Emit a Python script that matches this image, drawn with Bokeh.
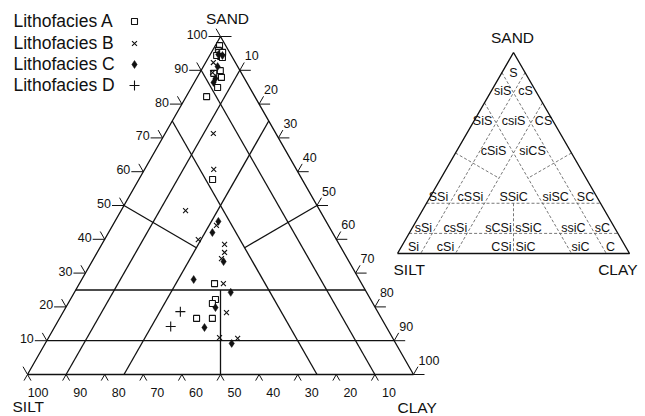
import numpy as np
from bokeh.plotting import figure
from bokeh.models import Range1d
from bokeh.embed import file_html
from bokeh.resources import INLINE
from bokeh.core.properties import value

FONT = "Liberation Sans"

# ---------------- data (percent: sand, silt, clay) ----------------
A_sand = [97.3, 95.9, 95.3, 95.3, 94.1, 94.4, 93.8, 89.9, 89.1, 87.9, 84.9, 82.2, 57.7, 26.9, 22.2, 21.0, 16.6, 16.6]
A_silt = [1.6, 2.6, 2.8, 1.8, 2.9, 3.8, 2.6, 5.1, 7.2, 5.8, 8.3, 12.5, 23.2, 38.1, 40.2, 41.6, 47.9, 43.8]
A_clay = [1.1, 1.5, 1.9, 2.9, 3.0, 1.8, 3.6, 5.0, 3.7, 6.3, 6.8, 5.3, 19.1, 35.0, 37.6, 37.4, 35.5, 39.6]

B_sand = [92.3, 89.3, 71.3, 60.7, 48.5, 44.1, 39.9, 38.5, 36.1, 34.3, 26.9, 18.3, 10.9, 10.7]
B_silt = [5.7, 7.4, 16.2, 21.4, 34.8, 29.0, 35.8, 29.7, 30.9, 32.6, 35.8, 39.3, 44.8, 40.2]
B_clay = [2.0, 3.3, 12.5, 17.9, 16.7, 26.9, 24.3, 31.8, 33.0, 33.1, 37.3, 42.4, 44.3, 49.1]

C_sand = [94.7, 94.4, 91.1, 87.6, 86.4, 45.3, 42.0, 33.4, 28.1, 24.3, 19.8, 13.9, 9.2]
C_silt = [3.2, 2.3, 5.2, 7.5, 8.6, 27.9, 31.1, 32.5, 42.9, 35.2, 41.4, 47.2, 42.5]
C_clay = [2.1, 3.3, 3.7, 4.9, 5.0, 26.8, 26.9, 34.1, 29.0, 40.5, 38.8, 38.9, 48.3]

D_sand = [18.6, 14.2]
D_silt = [51.1, 55.8]
D_clay = [30.3, 30.0]

series_names = ["Lithofacies A", "Lithofacies B", "Lithofacies C", "Lithofacies D"]

tick_values = [10, 20, 30, 40, 50, 60, 70, 80, 90, 100]

# class boundaries (sand, clay) endpoint pairs, percent
grid_lines = [
    ((10, 0), (10, 90)),      # sand = 10
    ((25, 0), (25, 75)),      # sand = 25
    ((90, 0), (0, 90)),       # silt = 10
    ((75, 0), (0, 75)),       # silt = 25
    ((90, 10), (0, 10)),      # clay = 10
    ((75, 25), (0, 25)),      # clay = 25
    ((50, 0), (37.5, 25)),    # sand = silt
    ((50, 50), (37.5, 37.5)), # sand = clay
    ((25, 37.5), (0, 50)),    # silt = clay
]

class_labels = ["S", "siS", "cS", "SiS", "csiS", "CS", "cSiS", "siCS",
                "SSi", "cSSi", "SSiC", "siSC", "SC",
                "sSi", "csSi", "sCSi", "sSiC", "ssiC", "sC",
                "Si", "cSi", "CSi", "SiC", "siC", "C"]
class_sand = [90.0, 80.6, 80.6, 65.7, 65.7, 65.7, 51.2, 51.2,
              27.9, 27.9, 27.9, 27.9, 27.9,
              12.9, 12.9, 12.9, 12.9, 12.9, 12.9,
              3.0, 3.0, 3.0, 3.0, 3.0, 3.0]
class_clay = [5.0, 5.0, 14.9, 3.8, 17.2, 30.1, 15.8, 32.6,
              3.7, 17.5, 36.1, 54.2, 67.1,
              4.7, 18.5, 37.1, 50.0, 69.4, 81.9,
              5.4, 19.2, 43.3, 53.7, 77.4, 90.3]

# ---------------- geometry ----------------
# (x of SILT corner, y of base, base width, height) in screen pixels
BIG = (27.0, 374.0, 386.0, 338.0)
SMALL = (397.0, 253.0, 232.0, 201.0)


def tern(sand, clay, T):
    x0, base, w, h = T
    sand = np.asarray(sand, dtype=float)
    clay = np.asarray(clay, dtype=float)
    x = x0 + (clay / 100.0 + sand / 200.0) * w
    y = base - sand / 100.0 * h
    return x, y


p = figure(width=645, height=416, x_range=Range1d(0, 645), y_range=Range1d(416, 0),
           output_backend="svg", toolbar_location=None, min_border=0,
           x_axis_type=None, y_axis_type=None)
p.outline_line_color = None
p.background_fill_color = "white"
p.border_fill_color = "white"

LW = 1.3
COL = "#111111"


def draw_triangle(T, lw):
    xs, ys = tern([0, 0, 100, 0], [0, 100, 0, 0], T)
    p.line(list(xs), list(ys), line_color=COL, line_width=lw)


def draw_grid(T, **kw):
    x0s, y0s, x1s, y1s = [], [], [], []
    for (s0, c0), (s1, c1) in grid_lines:
        a, b = tern(s0, c0, T)
        c, d = tern(s1, c1, T)
        x0s.append(float(a)); y0s.append(float(b)); x1s.append(float(c)); y1s.append(float(d))
    p.segment(x0s, y0s, x1s, y1s, **kw)


# ---------- big triangle ----------
draw_grid(BIG, line_color=COL, line_width=LW)
draw_triangle(BIG, LW)

# unit directions along edges
ax_, ay_ = tern(100, 0, BIG)
sx_, sy_ = tern(0, 0, BIG)
cx_, cy_ = tern(0, 100, BIG)
dR = np.array([ax_ - cx_, ay_ - cy_]); dR = dR / np.hypot(*dR)   # clay corner -> apex
dL = np.array([ax_ - sx_, ay_ - sy_]); dL = dL / np.hypot(*dL)   # silt corner -> apex

tx0, ty0, tx1, ty1 = [], [], [], []
lab_x, lab_y, lab_t = [], [], []
# left axis (sand)
for v in [0] + tick_values:
    x, y = tern(v, 0, BIG)
    x, y = float(x), float(y)
    if v > 0:
        tx0.append(x - 12); ty0.append(y); tx1.append(x); ty1.append(y)
        lab_x.append(x - 13); lab_y.append(y - 2); lab_t.append(str(v))
    tx0.append(x); ty0.append(y); tx1.append(x + 9 * dR[0]); ty1.append(y + 9 * dR[1])
p.segment(tx0, ty0, tx1, ty1, line_color=COL, line_width=1)
p.text(lab_x, lab_y, text=lab_t, text_align="right", text_baseline="middle",
       text_font=value(FONT), text_font_size="12.5px", text_color=COL)

# right axis (clay)
tx0, ty0, tx1, ty1 = [], [], [], []
lab_x, lab_y, lab_t = [], [], []
for v in [0] + tick_values:
    x, y = tern(100 - v, v, BIG)
    x, y = float(x), float(y)
    tx0.append(x); ty0.append(y); tx1.append(x + 11); ty1.append(y)
    if v > 0:
        tx0.append(x); ty0.append(y); tx1.append(x + 9 * dL[0]); ty1.append(y + 9 * dL[1])
        lab_x.append(x + 5); lab_y.append(y - 14.5); lab_t.append(str(v))
p.segment(tx0, ty0, tx1, ty1, line_color=COL, line_width=1)
p.text(lab_x, lab_y, text=lab_t, text_align="left", text_baseline="middle",
       text_font=value(FONT), text_font_size="12.5px", text_color=COL)

# bottom axis (silt)
tx0, ty0, tx1, ty1 = [], [], [], []
lab_x, lab_y, lab_t = [], [], []
for v in tick_values:
    x, y = tern(0, 100 - v, BIG)
    x, y = float(x), float(y)
    tx0 += [x, x]; ty0 += [y, y]
    tx1 += [x - 7 * dL[0], x - 7 * dR[0]]; ty1 += [y - 7 * dL[1], y - 7 * dR[1]]
    lab_x.append(x + 21); lab_y.append(y + 17.5); lab_t.append(str(v))
p.segment(tx0, ty0, tx1, ty1, line_color=COL, line_width=1)
p.text(lab_x, lab_y, text=lab_t, text_align="right", text_baseline="middle",
       text_font=value(FONT), text_font_size="12.5px", text_color=COL)

# corner titles of big triangle
p.text([float(ax_) + 7], [float(ay_) - 18], text=["SAND"], text_align="center", text_baseline="middle",
       text_font=value(FONT), text_font_size="15.5px", text_color=COL)
p.text([float(sx_) - 15], [float(sy_) + 32], text=["SILT"], text_align="left", text_baseline="middle",
       text_font=value(FONT), text_font_size="15.5px", text_color=COL)
p.text([float(cx_) - 16], [float(cy_) + 33], text=["CLAY"], text_align="left", text_baseline="middle",
       text_font=value(FONT), text_font_size="15.5px", text_color=COL)

# data points
ax, ay = tern(A_sand, A_clay, BIG)
p.scatter(ax, ay, marker="square", size=6, fill_color="white", line_color=COL, line_width=1.1)
bx, by = tern(B_sand, B_clay, BIG)
p.scatter(bx, by, marker="x", size=7, line_color=COL, line_width=1.1)
cx, cy = tern(C_sand, C_clay, BIG)
p.scatter(cx, cy, marker="diamond", size=8, fill_color=COL, line_color=COL, line_width=0.5)
dx, dy = tern(D_sand, D_clay, BIG)
p.scatter(dx, dy, marker="cross", size=10, line_color=COL, line_width=1.1)

# legend
leg_y = [20, 42, 63, 84]
p.text([13] * 4, leg_y, text=series_names, text_align="left", text_baseline="middle",
       text_font=value(FONT), text_font_size="17.5px", text_color=COL)
p.scatter([134], [leg_y[0] + 1], marker="square", size=6, fill_color="white", line_color=COL, line_width=1.1)
p.scatter([134], [leg_y[1] + 1], marker="x", size=7, line_color=COL, line_width=1.1)
p.scatter([134], [leg_y[2] + 1], marker="diamond", size=8, fill_color=COL, line_color=COL, line_width=0.5)
p.scatter([134], [leg_y[3] + 1], marker="cross", size=10, line_color=COL, line_width=1.1)

# ---------- small classification triangle ----------
draw_grid(SMALL, line_color="#555555", line_width=0.8, line_dash="3 2")
draw_triangle(SMALL, 1.4)
lx, ly = tern(class_sand, class_clay, SMALL)
p.text(lx, ly, text=class_labels, text_align="center", text_baseline="middle",
       text_font=value(FONT), text_font_size="12.5px", text_color=COL)
sax, say = tern(100, 0, SMALL)
ssx, ssy = tern(0, 0, SMALL)
scx, scy = tern(0, 100, SMALL)
p.text([float(sax) - 1], [float(say) - 15], text=["SAND"], text_align="center", text_baseline="middle",
       text_font=value(FONT), text_font_size="15.5px", text_color=COL)
p.text([float(ssx) - 4], [float(ssy) + 16], text=["SILT"], text_align="left", text_baseline="middle",
       text_font=value(FONT), text_font_size="15.5px", text_color=COL)
p.text([float(scx) + 8], [float(scy) + 16], text=["CLAY"], text_align="right", text_baseline="middle",
       text_font=value(FONT), text_font_size="15.5px", text_color=COL)

open("out.html", "w").write(file_html(p, INLINE))
